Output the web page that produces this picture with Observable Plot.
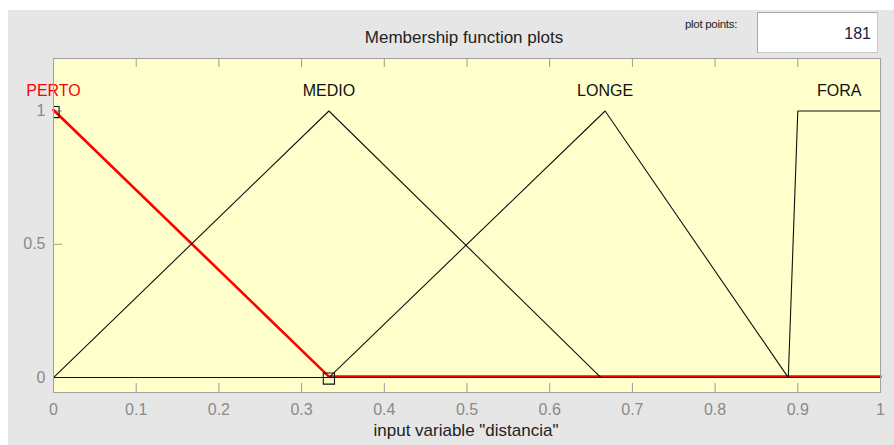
<!DOCTYPE html>
<html><head><meta charset="utf-8">
<script src="https://cdn.jsdelivr.net/npm/d3@7"></script>
<script src="https://cdn.jsdelivr.net/npm/@observablehq/plot@0.6"></script>
<style>
html,body{margin:0;padding:0;background:#fff;}
#page{position:relative;width:894px;height:445px;overflow:hidden;background:#fff;font-family:"Liberation Sans",Arial,sans-serif;}
#chart{position:absolute;left:8px;top:10px;}
.t{position:absolute;white-space:nowrap;line-height:1;color:#222;}
#box{position:absolute;left:757px;top:12px;width:121px;height:41px;box-sizing:border-box;background:#fff;border:1px solid #a8a8a8;border-bottom-color:#c8c8c8;border-right-color:#c8c8c8;font-size:16px;color:#1e1a44;text-align:right;padding-right:6px;line-height:1;}
#box span{position:absolute;right:6px;top:13px;}
</style></head><body>
<div id="page">
  <div id="chart"></div>
  <div class="t" style="left:314px;width:300px;text-align:center;top:28.6px;font-size:17px;">Membership function plots</div>
  <div class="t" style="left:685px;top:18.5px;font-size:11px;letter-spacing:-0.3px;transform:scaleX(1.05);transform-origin:left;">plot points:</div>
  <div id="box"><span>181</span></div>
  <div class="t" style="left:316px;width:300px;text-align:center;top:421.6px;font-size:17px;">input variable "distancia"</div>
</div>
<script>
// Membership functions of input variable "distancia" (vertices)
const mfNames = ["PERTO", "MEDIO", "LONGE", "FORA"];
const mfLabelX = [0, 0.333, 0.667, 0.95];
const mfColors = ["#ff0000", "#111", "#111", "#111"];

const pertoX = [0, 0.333, 1];
const pertoY = [1, 0, 0];
const medioX = [0, 0.333, 0.662, 1];
const medioY = [0, 1, 0, 0];
const longeX = [0, 0.333, 0.667, 0.8885, 1];
const longeY = [0, 0, 1, 0, 0];
const foraX = [0, 0.8885, 0.9, 1];
const foraY = [0, 0, 1, 1];

// selected MF handles (PERTO)
const handleX = [0, 0.333];
const handleY = [1, 0];

const xTicks = [0, 0.1, 0.2, 0.3, 0.4, 0.5, 0.6, 0.7, 0.8, 0.9, 1];
const xTickLabels = ["0", "0.1", "0.2", "0.3", "0.4", "0.5", "0.6", "0.7", "0.8", "0.9", "1"];
const yTicks = [0, 0.5, 1];
const yTickLabels = ["0", "0.5", "1"];

const toPts = (xs, ys) => xs.map((x, i) => ({x, y: ys[i]}));
const perto = toPts(pertoX, pertoY);
const blackMFs = [toPts(medioX, medioY), toPts(longeX, longeY), toPts(foraX, foraY)];
const handles = toPts(handleX, handleY);
const labels = mfNames.map((n, i) => ({name: n, x: mfLabelX[i], c: mfColors[i]}));

const W = 886, H = 435, mL = 45, mR = 14, mT = 48, mB = 53;
const fw = W - mL - mR, fh = H - mT - mB;
const gray = "#8a8a8a";

const chart = Plot.plot({
  width: W, height: H,
  marginLeft: mL, marginRight: mR, marginTop: mT, marginBottom: mB,
  style: {background: "#e6e6e6", fontFamily: "'Liberation Sans', Arial, sans-serif"},
  x: {domain: [0, 1], axis: null},
  y: {domain: [-0.056, 1.197], axis: null},
  marks: [
    Plot.frame({fill: "#ffffcc", stroke: null}),
    // inward tick marks
    Plot.ruleX(xTicks, {x: d => d, insetBottom: fh - 9, stroke: "#9a9a9a"}),
    Plot.ruleX(xTicks, {x: d => d, insetTop: fh - 9, stroke: "#9a9a9a"}),
    Plot.ruleY(yTicks, {y: d => d, insetRight: fw - 9, stroke: "#9a9a9a"}),
    // tick labels
    Plot.axisX({ticks: xTicks, tickSize: 0, tickPadding: 11, fontSize: 16, color: gray, label: null,
      tickFormat: d => xTickLabels[xTicks.indexOf(d)]}),
    Plot.axisY({ticks: yTicks, tickSize: 0, tickPadding: 8, fontSize: 16, color: gray, label: null,
      tickFormat: d => yTickLabels[yTicks.indexOf(d)]}),
    // selected MF (red, thick)
    Plot.line(perto, {x: "x", y: "y", stroke: "#ff0000", strokeWidth: 2.6, dy: -1}),
    // other MFs
    ...blackMFs.map(mf => Plot.line(mf, {x: "x", y: "y", stroke: "#111", strokeWidth: 1.1})),
    // handles
    Plot.dot(handles, {x: "x", y: "y", symbol: "square", r: 6.3, stroke: "#111", fill: "none", strokeWidth: 1.1, dy: 1, clip: "frame"}),
    // MF labels
    Plot.text(labels, {x: "x", frameAnchor: "top", dy: 26, text: "name", fill: "c", fontSize: 16}),
    Plot.frame({stroke: "#a0a0a0", fill: null})
  ]
});
document.getElementById("chart").appendChild(chart);
</script>
</body></html>
